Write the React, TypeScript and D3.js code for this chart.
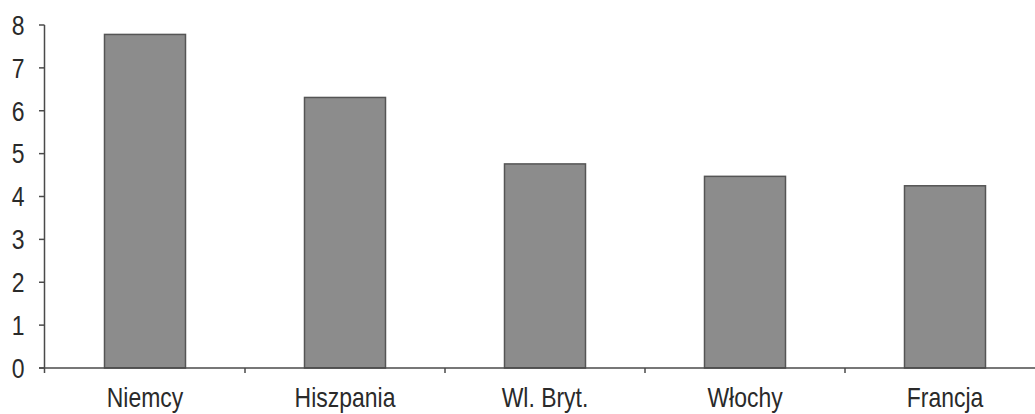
import React from "react";
import * as d3 from "d3";

const categories = ["Niemcy", "Hiszpania", "Wl. Bryt.", "Włochy", "Francja"];
const values = [7.78, 6.31, 4.76, 4.47, 4.25];
const yTicks = [0, 1, 2, 3, 4, 5, 6, 7, 8];

const W = 1035;
const H = 414;
const FONT = "'Liberation Sans', Arial, sans-serif";
const SX = 0.82;

export default function App() {
  const x = d3.scaleBand<string>().domain(categories).range([45, 1045]).padding(0);
  const y = d3.scaleLinear().domain([0, 8]).range([368, 25]);
  const barW = x.bandwidth() * 0.405;
  const axisColor = "#4a4a4a";
  return (
    <svg
      width={W}
      height={H}
      style={{ position: "absolute", left: 0, top: 0, background: "#fff" }}
      fontFamily={FONT}
    >
      {categories.map((c, i) => {
        const cx = (x(c) as number) + x.bandwidth() / 2;
        return (
          <rect
            key={c}
            x={cx - barW / 2}
            y={y(values[i])}
            width={barW}
            height={y(0) - y(values[i])}
            fill="#8c8c8c"
            stroke="#555"
            strokeWidth={1.5}
          />
        );
      })}
      {/* y axis */}
      <line x1={44.5} x2={44.5} y1={y(8)} y2={y(0) + 5} stroke={axisColor} strokeWidth={1.5} />
      {yTicks.map((t) => (
        <g key={t}>
          <line x1={39} x2={44.5} y1={y(t)} y2={y(t)} stroke={axisColor} strokeWidth={1.5} />
          <text
            transform={`translate(24.5,${y(t)}) scale(${SX},1)`}
            textAnchor="end"
            dominantBaseline="central"
            fontSize={28}
            fill="#2a2a2a"
          >
            {t}
          </text>
        </g>
      ))}
      {/* x axis */}
      <line x1={39} x2={W} y1={y(0)} y2={y(0)} stroke={axisColor} strokeWidth={1.5} />
      {categories.slice(1).map((c) => (
        <line
          key={c}
          x1={x(c) as number}
          x2={x(c) as number}
          y1={y(0)}
          y2={y(0) + 5}
          stroke={axisColor}
          strokeWidth={1.5}
        />
      ))}
      {categories.map((c) => (
        <text
          key={c}
          transform={`translate(${(x(c) as number) + x.bandwidth() / 2},407) scale(${SX},1)`}
          textAnchor="middle"
          fontSize={28}
          fill="#2a2a2a"
        >
          {c}
        </text>
      ))}
    </svg>
  );
}
